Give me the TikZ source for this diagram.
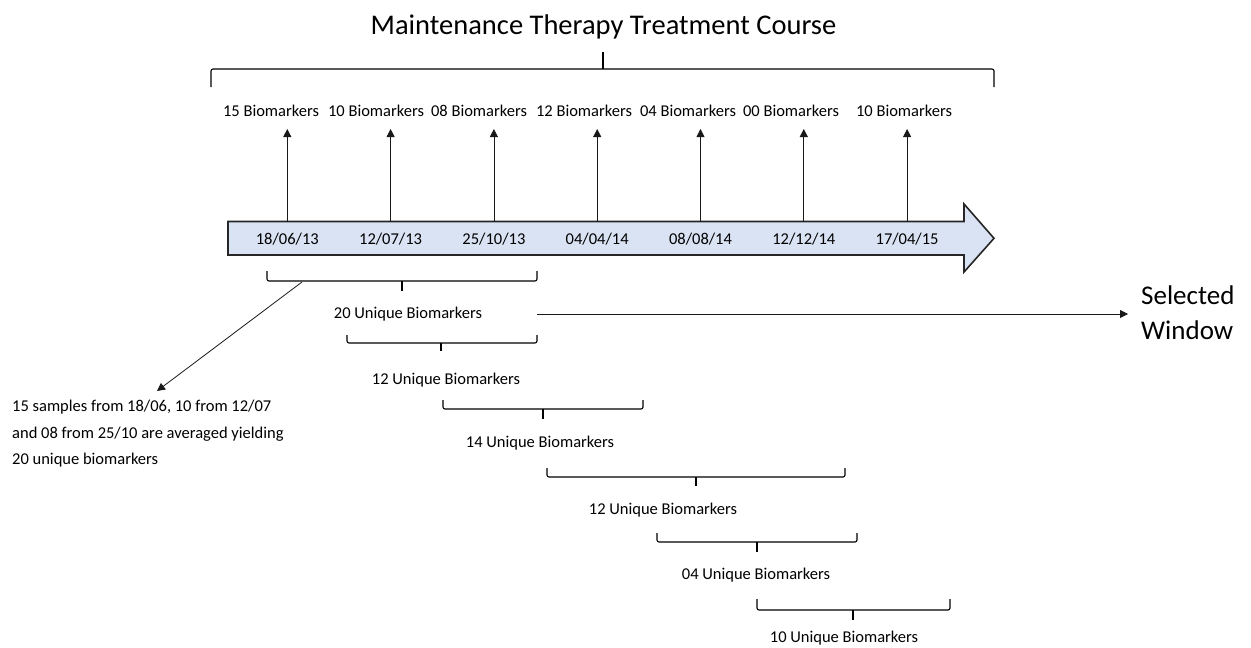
\documentclass[tikz,border=0pt]{standalone}
\usepackage{fontspec}
\setmainfont{Carlito}
\usetikzlibrary{arrows.meta}
\definecolor{tlfill}{HTML}{DAE3F3}
\definecolor{tlline}{HTML}{262626}
% bracket under a span: left, right, top of the ends, bar level, centre, tip
\newcommand{\spanbrace}[6]{%
  \draw[brc] (#1,#3) -- (#1,#4) -- (#2,#4) -- (#2,#3);
  \draw[brc] (#5,#4) -- (#5,#6);}
\begin{document}
\begin{tikzpicture}[x=1pt,y=-1pt,
  lbl/.style={font=\fontsize{16.5}{20}\selectfont, inner sep=0pt},
  arr/.style={draw=black!90, line width=0.8pt, -{Triangle[length=8pt,width=8pt]}},
  brc/.style={draw=black, line width=1.1pt, rounded corners=2pt},
  timeline/.style={fill=tlfill, draw=tlline, line width=1.6pt, line join=miter},
]
\useasboundingbox (0,0) rectangle (1251,648);

% title and the bracket over the whole course
\node[font=\fontsize{28.5}{34}\selectfont, inner sep=0pt] (title) at (603.5,27) {Maintenance Therapy Treatment Course};
\draw[brc] (211,87) -- (211,69) -- (994,69) -- (994,87);
\draw[brc] (603,69) -- (603,52);

% timeline arrow
\draw[timeline] (228,221.5) -- (964,221.5) -- (964,204) -- (994,238.3)
  -- (964,272) -- (964,255) -- (228,255) -- cycle;

% sampling dates
\node[lbl] (d1) at (287.3,239) {18/06/13};
\node[lbl] (d2) at (390.6,239) {12/07/13};
\node[lbl] (d3) at (493.9,239) {25/10/13};
\node[lbl] (d4) at (597.2,239) {04/04/14};
\node[lbl] (d5) at (700.5,239) {08/08/14};
\node[lbl] (d6) at (803.8,239) {12/12/14};
\node[lbl] (d7) at (907.1,239) {17/04/15};

% biomarker counts per date
\node[lbl] (m1) at (271,111) {15 Biomarkers};
\node[lbl] (m2) at (376,111) {10 Biomarkers};
\node[lbl] (m3) at (479,111) {08 Biomarkers};
\node[lbl] (m4) at (584,111) {12 Biomarkers};
\node[lbl] (m5) at (688,111) {04 Biomarkers};
\node[lbl] (m6) at (791,111) {00 Biomarkers};
\node[lbl] (m7) at (904,111) {10 Biomarkers};

% arrows from the timeline up to the counts
\foreach \i/\x in {1/287.3,2/390.6,3/493.9,4/597.2,5/700.5,6/803.8,7/907.1}{
  \coordinate (t\i) at (\x,221.5);
  \coordinate (a\i) at (\x,129);
  \draw[arr] (t\i) -- (a\i);
}

% sliding windows
\spanbrace{267}{537}{271}{281}{402}{291}
\node[lbl] (u1) at (408,314) {20 Unique Biomarkers};
\spanbrace{347}{537}{335}{343}{441}{351}
\node[lbl] (u2) at (446,380) {12 Unique Biomarkers};
\spanbrace{443}{643}{400}{409}{543}{419}
\node[lbl] (u3) at (540,443) {14 Unique Biomarkers};
\spanbrace{547}{845}{468}{477}{696}{486}
\node[lbl] (u4) at (663,510) {12 Unique Biomarkers};
\spanbrace{657}{857}{533}{542}{757}{552}
\node[lbl] (u5) at (756,575) {04 Unique Biomarkers};
\spanbrace{757}{950}{599}{610}{853}{620}
\node[lbl] (u6) at (844,638) {10 Unique Biomarkers};

% selected window
\node[font=\fontsize{27}{35}\selectfont, align=left, inner sep=0pt, anchor=west] (sel) at (1141,313) {Selected\\Window};
\coordinate (selS) at (537,314);
\coordinate (selE) at (1128,314);
\draw[arr] (selS) -- (selE);

% explanation of the first window
\node[font=\fontsize{16.5}{26.5}\selectfont, align=left, inner sep=0pt, anchor=north west] (note) at (12,400)
  {15 samples from 18/06, 10 from 12/07\\and 08 from 25/10 are averaged yielding\\20 unique biomarkers};
\coordinate (bd) at (302,282);
\coordinate (nt) at (157,391);
\draw[arr] (bd) -- (nt);
\end{tikzpicture}
\end{document}
